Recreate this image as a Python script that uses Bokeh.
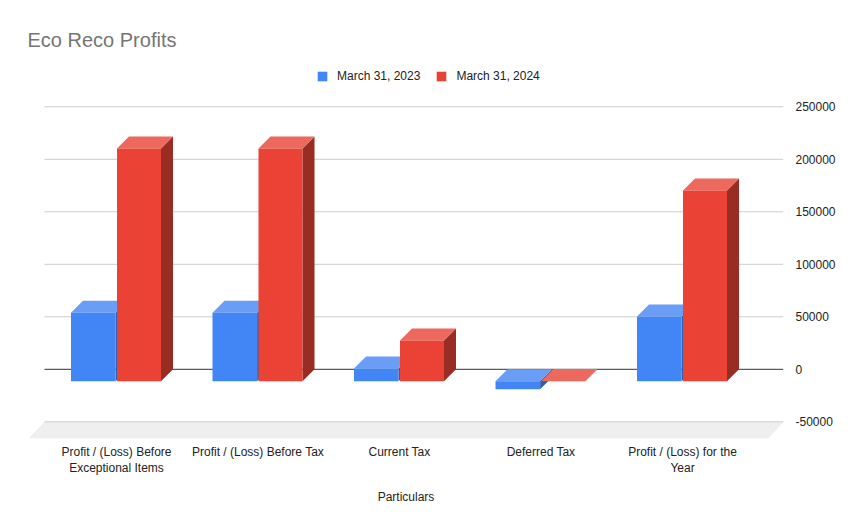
from bokeh.plotting import figure
from bokeh.models import (ColumnDataSource, FixedTicker, Legend, LegendItem, NumeralTickFormatter)
from bokeh.embed import file_html
from bokeh.resources import INLINE

categories = ["Profit / (Loss) Before\nExceptional Items", "Profit / (Loss) Before Tax",
              "Current Tax", "Deferred Tax", "Profit / (Loss) for the\nYear"]
series_2023 = [65400, 65400, 12100, -7600, 61600]
series_2024 = [221600, 221600, 38800, 300, 181600]
y_ticks = [-50000, 0, 50000, 100000, 150000, 200000, 250000]
grid_ticks = [50000, 100000, 150000, 200000, 250000]
legend_labels = ["March 31, 2023", "March 31, 2024"]

FONT = "Liberation Sans"
X_UNIT = 141.5          # px per category
Y_UNIT = 0.00105        # px per value
DX = 12 / X_UNIT        # depth of the 3D bars
DY = 12 / Y_UNIT
WALL_L, WALL_R = (44 - 116) / X_UNIT, (783 - 116) / X_UNIT
FRAME_L, FRAME_R = (28 - 116) / X_UNIT, (783 - 116) / X_UNIT
FRAME_B = -50000 - 16.7 / Y_UNIT
FRAME_T = FRAME_B + 378 / Y_UNIT

p = figure(width=850, height=523, output_backend="svg", toolbar_location=None,
           x_range=(FRAME_L, FRAME_R), y_range=(FRAME_B, FRAME_T),
           y_axis_location="right", min_border_left=28, min_border_right=67,
           min_border_top=60, min_border_bottom=85,
           title="Eco Reco Profits", outline_line_color=None)
p.xgrid.visible = False
p.ygrid.visible = False
p.background_fill_color = "white"
p.border_fill_color = "white"

p.title.text_font = FONT
p.title.text_font_size = "20px"
p.title.text_font_style = "normal"
p.title.text_color = "#757575"
p.title.standoff = 19
p.title.offset = -1

# floor
p.patch([WALL_L, WALL_R, WALL_R - 15 / X_UNIT, FRAME_L],
        [-50000, -50000, FRAME_B, FRAME_B], fill_color="#efefef", line_color=None)

# gridlines
p.segment(x0=[WALL_L] * len(grid_ticks), x1=[WALL_R] * len(grid_ticks), y0=grid_ticks, y1=grid_ticks,
          line_color="#cccccc", line_width=1)
p.segment(x0=[WALL_L], x1=[WALL_R], y0=[-50000], y1=[-50000], line_color="#cccccc", line_width=1)
p.segment(x0=[WALL_L], x1=[WALL_R], y0=[0], y1=[0], line_color="#333333", line_width=1)


def draw(values, left, right, front, top, side):
    lefts = [i + left for i in range(len(values))]
    rights = [i + right for i in range(len(values))]
    hi = [max(v, 0) for v in values]
    lo = [min(v, 0) for v in values]
    side_xs = [[r, r + DX, r + DX, r] for r in rights]
    side_ys = [[h - DY, h, l, l - DY] for h, l in zip(hi, lo)]
    top_xs = [[a, a + DX, b + DX, b] for a, b in zip(lefts, rights)]
    top_ys = [[h - DY, h, h, h - DY] for h in hi]
    p.patches(side_xs, side_ys, fill_color=side, line_color=None)
    p.patches(top_xs, top_ys, fill_color=top, line_color=None)
    src = ColumnDataSource(dict(left=lefts, right=rights,
                                top=[h - DY for h in hi], bottom=[l - DY for l in lo]))
    return p.quad(left="left", right="right", top="top", bottom="bottom", source=src,
                  fill_color=front, line_color=None)


r1 = draw(series_2023, -45.5 / X_UNIT, -0.9 / X_UNIT, "#4285f4", "#6a9df6", "#2f5fae")
r2 = draw(series_2024, 0.5 / X_UNIT, 44.5 / X_UNIT, "#ea4335", "#ee695d", "#992c23")

# axes
xa = p.xaxis[0]
xa.ticker = FixedTicker(ticks=list(range(len(categories))))
xa.major_label_overrides = {i: c for i, c in enumerate(categories)}
xa.axis_line_color = None
xa.major_tick_line_color = None
xa.minor_tick_line_color = None
xa.major_label_standoff = 0
xa.major_label_text_font = FONT
xa.major_label_text_font_size = "12px"
xa.major_label_text_color = "#222222"
xa.axis_label = "Particulars"
xa.axis_label_text_font = FONT
xa.axis_label_text_font_size = "12px"
xa.axis_label_text_font_style = "normal"
xa.axis_label_text_color = "#222222"
xa.axis_label_standoff = 12

ya = p.yaxis[0]
ya.ticker = FixedTicker(ticks=y_ticks)
ya.formatter = NumeralTickFormatter(format="0")
ya.axis_line_color = None
ya.major_tick_line_color = None
ya.minor_tick_line_color = None
ya.major_label_standoff = 6
ya.major_label_text_font = FONT
ya.major_label_text_font_size = "12px"
ya.major_label_text_color = "#222222"

legend = Legend(items=[LegendItem(label=legend_labels[0], renderers=[r1]),
                       LegendItem(label=legend_labels[1], renderers=[r2])],
                orientation="horizontal", location=(288, 355), border_line_color=None,
                background_fill_alpha=0, padding=0, margin=0, spacing=15,
                glyph_width=12, glyph_height=12, label_standoff=9,
                label_text_font=FONT, label_text_font_size="12px", label_text_color="#222222")
p.add_layout(legend, "center")

open("out.html", "w").write(file_html(p, INLINE))
